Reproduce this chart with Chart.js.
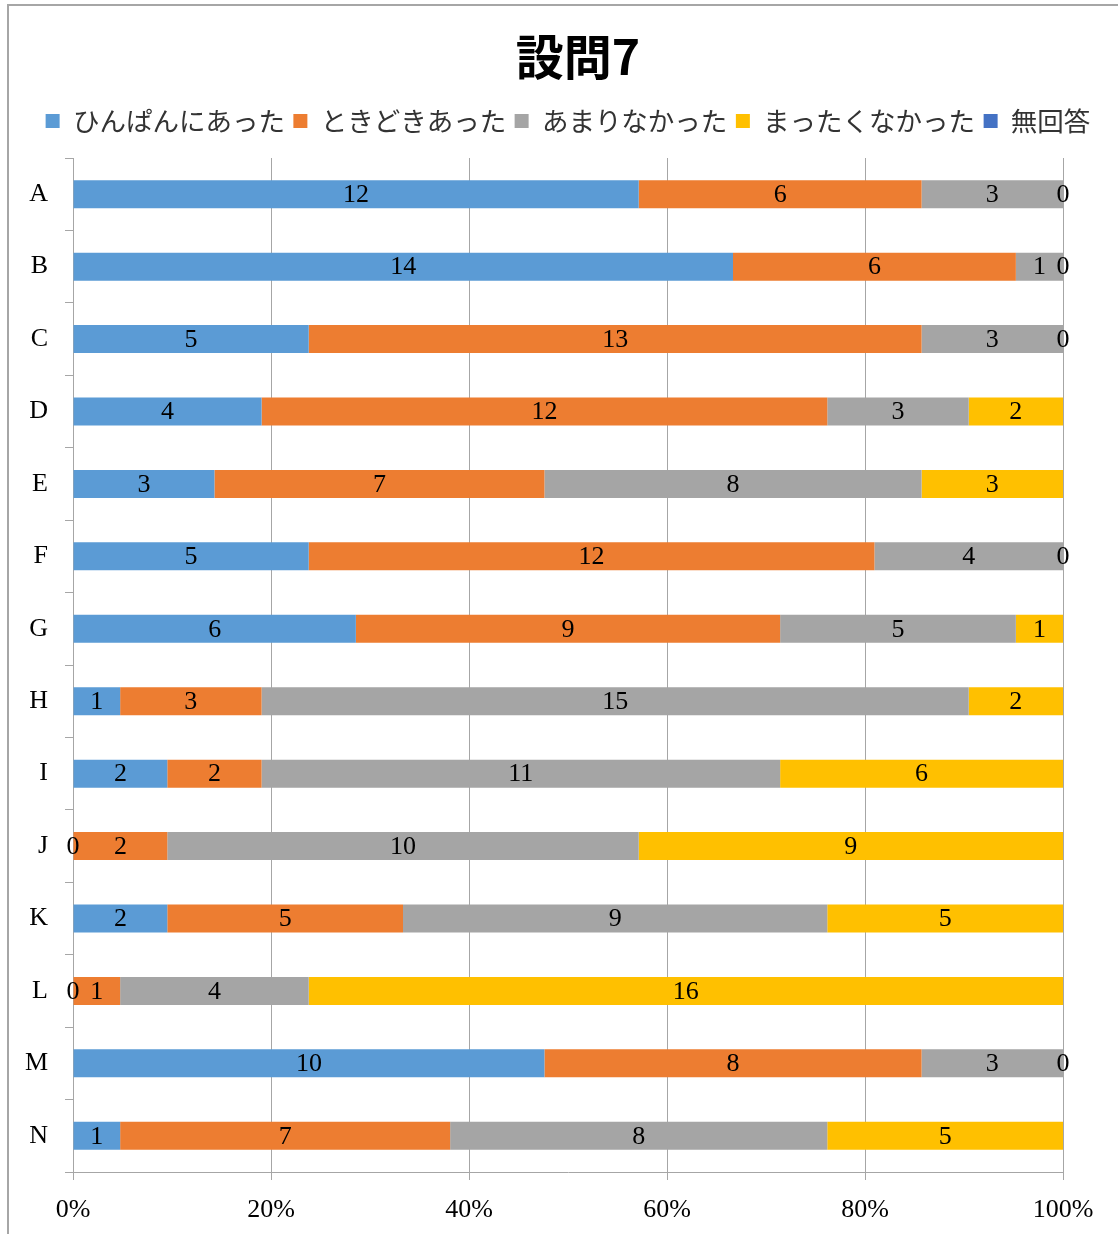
<!DOCTYPE html>
<html>
<head>
<meta charset="utf-8">
<script src="https://cdn.jsdelivr.net/npm/chart.js@4.4.1/dist/chart.umd.min.js"></script>
<style>
    html, body { margin: 0; padding: 0; background: #fff; overflow: hidden; }
    body { width: 1118px; height: 1234px; position: relative; }
    .frame { position: absolute; left: 7px; top: 4px; width: 1300px; height: 1400px; border: 2px solid #a6a6a6; }
    .wrap { position: absolute; left: 0; top: 0; width: 1112px; height: 1234px; }
</style>
</head>
<body>
<div class="frame"></div>
<div class="wrap"><canvas class="chart"></canvas></div>
<script>
// ----------chart data (counts per question)----------//
const titleText = '設問7';
const categories = ['A', 'B', 'C', 'D', 'E', 'F', 'G', 'H', 'I', 'J', 'K', 'L', 'M', 'N'];
const seriesNames = ['ひんぱんにあった', 'ときどきあった', 'あまりなかった', 'まったくなかった', '無回答'];
const hinpan = [12, 14, 5, 4, 3, 5, 6, 1, 2, 0, 2, 0, 10, 1];
const tokidoki = [6, 6, 13, 12, 7, 12, 9, 3, 2, 2, 5, 1, 8, 7];
const amari = [3, 1, 3, 3, 8, 4, 5, 15, 11, 10, 9, 4, 3, 8];
const mattaku = [0, 0, 0, 2, 3, 0, 1, 2, 6, 9, 5, 16, 0, 5];
const mukaitou = [0, 0, 0, 0, 0, 0, 0, 0, 0, 0, 0, 0, 0, 0];
const xTicks = [0, 20, 40, 60, 80, 100];
const colors = ['#5B9BD5', '#ED7D31', '#A5A5A5', '#FFC000', '#4472C4'];

const counts = [hinpan, tokidoki, amari, mattaku, mukaitou];
// totals per category -> percent stacked
const totals = categories.map((c, i) => counts.reduce((s, arr) => s + arr[i], 0));

const gridGray = '#a6a6a6';
const serif = "'Liberation Serif', 'Times New Roman', serif";
const jp = "'Noto Sans CJK JP', sans-serif";

Chart.defaults.font.family = serif;
Chart.defaults.color = '#000';

//-----plugin: value labels in the middle of each segment (not for 無回答)-----//
const segLabels = {
    id: 'segLabels',
    afterDatasetsDraw(chart) {
        const ctx = chart.ctx;
        ctx.save();
        ctx.font = '26px ' + serif;
        ctx.fillStyle = '#000';
        ctx.textAlign = 'center';
        ctx.textBaseline = 'middle';
        chart.data.datasets.forEach((ds, d) => {
            if (d == 4) return;
            chart.getDatasetMeta(d).data.forEach((bar, i) => {
                ctx.fillText(String(counts[d][i]), (bar.x + bar.base) / 2, bar.y + 1);
            });
        });
        ctx.restore();
    }
};

//-----plugin: title, drawn a bit right of the legend centre like the original-----//
const bigTitle = {
    id: 'bigTitle',
    afterDraw(chart) {
        const ctx = chart.ctx;
        ctx.save();
        ctx.font = 'bold 48px ' + jp;
        ctx.fillStyle = '#000';
        ctx.textAlign = 'center';
        ctx.textBaseline = 'middle';
        ctx.fillText(titleText, 578, 57);
        ctx.restore();
    }
};

//-----plugin: extra space under the legend-----//
const legendGap = {
    id: 'legendGap',
    beforeInit(chart) {
        const origFit = chart.legend.fit;
        chart.legend.fit = function () {
            origFit.bind(chart.legend)();
            this.height += 13.75;
        };
    }
};

const ctx = document.querySelector('.chart').getContext('2d');
const myChart = new Chart(ctx, {
    type: 'bar',
    data: {
        labels: categories,
        datasets: seriesNames.map((name, d) => ({
            label: name,
            data: counts[d].map((v, i) => v * 100 / totals[i]),
            backgroundColor: colors[d],
            borderWidth: 0,
            barPercentage: 0.387,
            categoryPercentage: 1
        }))
    },
    options: {
        indexAxis: 'y',
        responsive: true,
        maintainAspectRatio: false,
        animation: false,
        layout: { padding: { top: 99.25, left: 24, right: 0, bottom: 0 } },
        plugins: {
            title: { display: false },
            tooltip: { enabled: false },
            legend: {
                position: 'top',
                labels: {
                    boxWidth: 14,
                    boxHeight: 14,
                    padding: 8.5,
                    color: '#333',
                    font: { family: jp, size: 26.5 }
                }
            }
        },
        scales: {
            x: {
                stacked: true,
                min: 0,
                max: 100,
                afterBuildTicks: s => { s.ticks = xTicks.map(v => ({ value: v })) },
                afterFit: s => { s.height = 62; s.paddingRight = 49; s.paddingLeft = 0 },
                ticks: {
                    callback: v => v + '%',
                    padding: 15,
                    font: { size: 26 }
                },
                grid: { color: gridGray, tickLength: 8 },
                border: { color: gridGray }
            },
            y: {
                stacked: true,
                afterFit: s => { s.width = 49 },
                ticks: { padding: 17, font: { size: 26 } },
                grid: { drawOnChartArea: false, offset: true, tickLength: 8, color: gridGray },
                border: { color: gridGray }
            }
        }
    },
    plugins: [segLabels, bigTitle, legendGap]
});
</script>
</body>
</html>
